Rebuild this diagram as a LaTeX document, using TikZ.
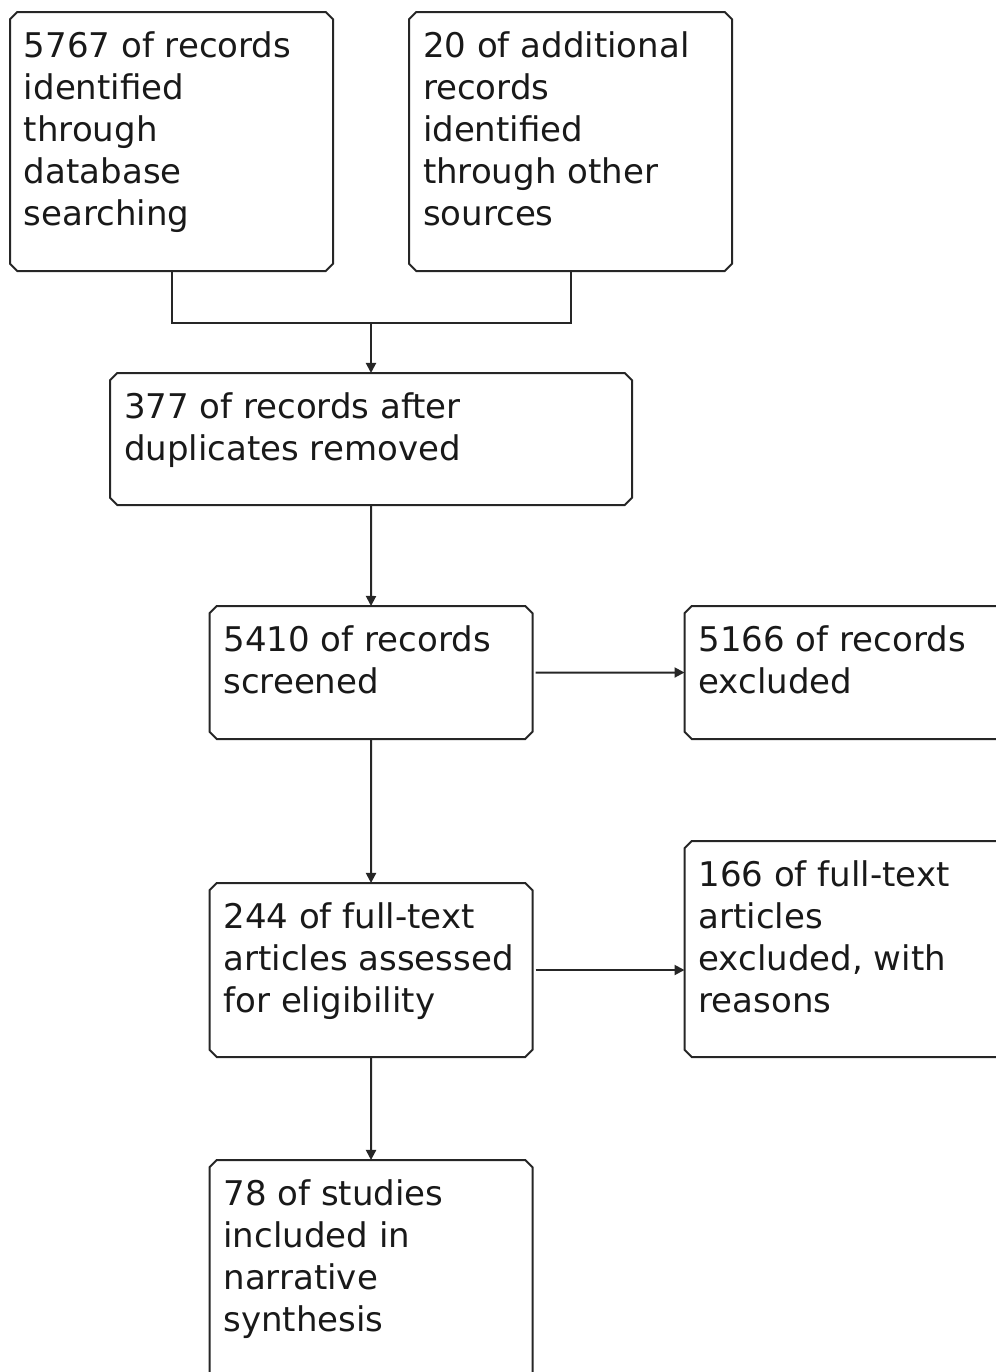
\documentclass[tikz,border=0pt]{standalone}
\usepackage{fontspec}
\setmainfont{DejaVu Sans}
\usetikzlibrary{positioning,calc,arrows.meta,shapes.misc}

\newcommand{\boxtext}[3]{\parbox[c][\dimexpr#2-20pt\relax][t]{\dimexpr#1-14pt\relax}{\raggedright #3}}

\tikzset{
	rec/.style 2 args={draw=black!85, line width=1pt, chamfered rectangle,
		chamfered rectangle xsep=1.8pt, chamfered rectangle ysep=1.8pt,
		inner sep=0pt, outer sep=0pt, minimum width=#1, minimum height=#2,
		font=\fontsize{17}{21}\selectfont, text=black!90},
	link/.style={line width=1pt, draw=black!85},
	>={Triangle[length=5pt,width=5pt]}
}

\begin{document}
\begin{tikzpicture}
	\useasboundingbox (0,0) rectangle (498pt,-686pt);
	\node[rec={161.5pt}{129.5pt}, anchor=north] (ident) at (85.75pt,-6pt)
		{\boxtext{161.5pt}{129.5pt}{5767 of records\\ identified\\ through\\ database\\ searching}};
	\node[rec={161.5pt}{129.5pt}, right = 38pt of ident] (other)
		{\boxtext{161.5pt}{129.5pt}{20 of additional\\ records\\ identified\\ through other\\ sources}};
	\coordinate (join) at ($(ident.south)!0.5!(other.south)+(0,-26pt)$);
	\node[rec={261pt}{66pt}, below = 25pt of join] (dedup)
		{\boxtext{261pt}{66pt}{377 of records after\\ duplicates removed}};
	\node[rec={161.5pt}{66.5pt}, below = 50.5pt of dedup] (screen)
		{\boxtext{161.5pt}{66.5pt}{5410 of records\\ screened}};
	\node[rec={161.5pt}{66.5pt}, right = 76pt of screen] (excl)
		{\boxtext{161.5pt}{66.5pt}{5166 of records\\ excluded}};
	\node[rec={161.5pt}{87pt}, below = 72pt of screen] (full)
		{\boxtext{161.5pt}{87pt}{244 of full-text\\ articles assessed\\ for eligibility}};
	\node[rec={161.5pt}{108pt}, anchor=south] (fullexcl) at (excl |- full.south)
		{\boxtext{161.5pt}{108pt}{166 of full-text\\ articles\\ excluded, with\\ reasons}};
	\node[rec={161.5pt}{129.5pt}, below = 51.5pt of full] (incl)
		{\boxtext{161.5pt}{129.5pt}{78 of studies\\ included in\\ narrative\\ synthesis}};
	\draw[link] (ident.south) |- (join) -| (other.south);
	\draw[link, ->] (join) -- (dedup);
	\draw[link, ->] (dedup) -- (screen);
	\draw[link, ->, shorten <=1.5pt] (screen) -- (excl);
	\draw[link, ->] (screen) -- (full);
	\draw[link, ->, shorten <=1.5pt] (full.east) -- (full.east -| fullexcl.west);
	\draw[link, ->] (full) -- (incl);
\end{tikzpicture}
\end{document}
